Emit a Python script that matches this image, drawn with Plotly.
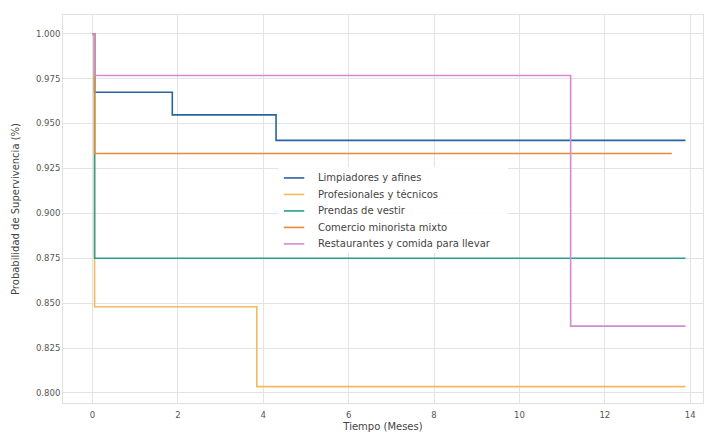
import plotly.graph_objects as go

# Series data (time in months, survival probability)
names = [
    "Limpiadores y afines",
    "Profesionales y técnicos",
    "Prendas de vestir",
    "Comercio minorista mixto",
    "Restaurantes y comida para llevar",
]
limpiadores_t = [0, 0.05, 1.87, 4.30, 13.89]
limpiadores_s = [1.0, 0.9674, 0.9548, 0.9406, 0.9406]
profesionales_t = [0, 0.05, 3.85, 13.89]
profesionales_s = [1.0, 0.848, 0.8035, 0.8035]
prendas_t = [0, 0.05, 13.89]
prendas_s = [1.0, 0.875, 0.875]
comercio_t = [0, 0.05, 13.57]
comercio_s = [1.0, 0.9333, 0.9333]
restaurantes_t = [0, 0.05, 11.2, 13.89]
restaurantes_s = [1.0, 0.9767, 0.8372, 0.8372]

colors = ["#2a649c", "#f3b95f", "#2a9d8f", "#e8893a", "#d48bd0"]

series = [
    (limpiadores_t, limpiadores_s),
    (profesionales_t, profesionales_s),
    (prendas_t, prendas_s),
    (comercio_t, comercio_s),
    (restaurantes_t, restaurantes_s),
]

fig = go.Figure()
for name, (t, s), c in zip(names, series, colors):
    fig.add_trace(go.Scatter(
        x=t, y=s, mode="lines", name=name, showlegend=False,
        line=dict(color=c, width=1.6, shape="hv"),
    ))

# Manual legend (matplotlib-like compact spacing), in paper coordinates
leg_x0, leg_x1 = 0.336, 0.695
leg_y0, leg_y1 = 0.387, 0.608
fig.add_shape(type="rect", xref="paper", yref="paper",
              x0=leg_x0, x1=leg_x1, y0=leg_y0, y1=leg_y1,
              fillcolor="rgba(255,255,255,0.9)", line=dict(width=0), layer="above")
first_y = 0.580
step = 0.0425
for i, (name, c) in enumerate(zip(names, colors)):
    yy = first_y - i * step
    fig.add_shape(type="line", xref="paper", yref="paper",
                  x0=0.345, x1=0.377, y0=yy, y1=yy,
                  line=dict(color=c, width=1.6), layer="above")
    fig.add_annotation(xref="paper", yref="paper", x=0.396, y=yy,
                       xanchor="left", yanchor="middle", showarrow=False,
                       text=name, font=dict(size=10, color="#444444"))

fig.update_layout(
    width=711, height=432,
    margin=dict(l=63, r=8, t=15, b=29, autoexpand=False),
    paper_bgcolor="white", plot_bgcolor="white",
    font=dict(family="DejaVu Sans", size=8.5, color="#555555"),
    showlegend=False,
)
fig.update_xaxes(
    range=[-0.69, 14.3], dtick=2, tick0=0, automargin=False,
    showgrid=True, gridcolor="#e3e3e3", gridwidth=1,
    zeroline=False, showline=True, linecolor="#e0e0e0", mirror=True,
    ticks="", ticklabelstandoff=4,
    title=dict(text="Tiempo (Meses)", font=dict(size=10, color="#444444"), standoff=5),
)
fig.update_yaxes(
    range=[0.7944, 1.0104], dtick=0.025, tick0=0.8, tickformat=".3f", automargin=False,
    showgrid=True, gridcolor="#e3e3e3", gridwidth=1,
    zeroline=False, showline=True, linecolor="#e0e0e0", mirror=True,
    ticks="",
    title=dict(text="Probabilidad de Supervivencia (%)", font=dict(size=10, color="#444444"), standoff=14),
)

fig.write_html("out.html", post_script="document.body.style.margin='0';",
               config={"displayModeBar": False})
